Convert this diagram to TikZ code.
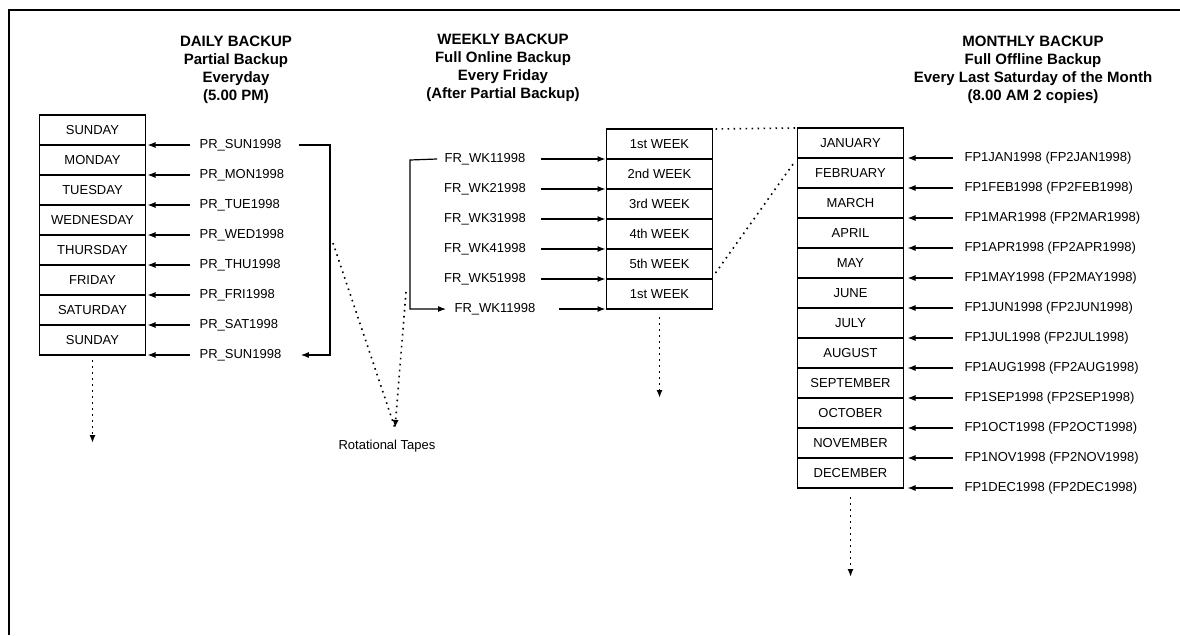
\documentclass[tikz,border=0pt]{standalone}
\usepackage{fontspec}
\setmainfont{Liberation Sans}
\usetikzlibrary{arrows.meta, positioning}

\begin{document}
\begin{tikzpicture}[x=1pt, y=-1pt, >={Latex[length=8pt,width=6pt]}, line width=1.2pt,
  font=\fontsize{13}{15}\selectfont]
\tikzstyle{cell}=[draw, line width=1.6pt, rectangle, minimum width=106pt, minimum height=30pt, inner sep=0pt, outer sep=0pt]
\tikzstyle{title}=[align=center, font=\fontsize{15}{18}\selectfont\bfseries]
\tikzstyle{tape}=[inner sep=1pt]
\tikzstyle{dots}=[line width=1.6pt, dash pattern=on 1.6pt off 4.4pt]

\useasboundingbox (0,0) rectangle (1180,635);
\draw[line width=1.5pt] (9,635) -- (9,10) -- (1180,10);

% daily
\node[title] (dtitle) at (236,70) {DAILY BACKUP\\Partial Backup\\Everyday\\(5.00 PM)};
\node[cell] (d1) at (92.5,130) {SUNDAY};
\foreach \day [count=\i from 2, remember=\i as \j (initially 1)] in {MONDAY,TUESDAY,WEDNESDAY,THURSDAY,FRIDAY,SATURDAY,SUNDAY}
  \node[cell, below=0pt of d\j] (d\i) {\day};
\foreach \tape [count=\i] in {SUN,MON,TUE,WED,THU,FRI,SAT,SUN} {
  \node[tape, anchor=west] (pr\i) at (198,{115+30*\i}) {PR\_\tape1998};
  \draw[<-] ([xshift=2pt]d\i.south east) -- ([xshift=-8pt]pr\i.west);
}
\coordinate (dloop) at (330,145);
\draw[->] ([xshift=16pt]pr1.east) -- (dloop) |- ([xshift=18pt]pr8.east);
\coordinate (dnext) at (92.5,443);
\draw[dots, ->] ([yshift=-5pt]d8.south) -- (dnext);

% weekly
\node[title] (wtitle) at (503,67.5) {WEEKLY BACKUP\\Full Online Backup\\Every Friday\\(After Partial Backup)};
\node[cell] (w1) at (659.5,144) {1st WEEK};
\foreach \wk [count=\i from 2, remember=\i as \j (initially 1)] in {2nd,3rd,4th,5th,1st}
  \node[cell, below=0pt of w\j] (w\i) {\wk\ WEEK};
\foreach \wk [count=\i] in {1,2,3,4,5} {
  \node[tape] (fr\i) at (485,{129+30*\i}) {FR\_WK\wk1998};
  \draw[->] ([xshift=14pt]fr\i.east) -- ([xshift=-1pt]w\i.south west);
}
\node[tape] (fr6) at (495,309) {FR\_WK11998};
\draw[->] ([xshift=22pt]fr6.east) -- ([xshift=-1pt]w6.south west);
\coordinate (wloop) at (410,160);
\draw[->] ([xshift=-6pt]fr1.west) -- (wloop) |- ([xshift=-7pt]fr6.west);
\coordinate (wnext) at (659.5,398);
\draw[dots, ->] ([yshift=-8pt]w6.south) -- (wnext);

% tapes
\node (tapes) at (387,446) {Rotational Tapes};
\coordinate (ttip) at (395,428);
\coordinate (dtap) at (333,243);
\coordinate (wtap) at (406,292);
\draw[dots] (dtap) -- (ttip);
\draw[dots, ->] (wtap) -- (ttip);

% monthly
\node[title] (mtitle) at (1033,69.5) {MONTHLY BACKUP\\Full Offline Backup\\Every Last Saturday of the Month\\(8.00 AM 2 copies)};
\node[cell] (m1) at (850.5,143) {JANUARY};
\foreach \mon [count=\i from 2, remember=\i as \j (initially 1)] in {FEBRUARY,MARCH,APRIL,MAY,JUNE,JULY,AUGUST,SEPTEMBER,OCTOBER,NOVEMBER,DECEMBER}
  \node[cell, below=0pt of m\j] (m\i) {\mon};
\foreach \mon [count=\i] in {JAN,FEB,MAR,APR,MAY,JUN,JUL,AUG,SEP,OCT,NOV,DEC} {
  \node[tape, anchor=west] (fp\i) at (963,{128+30*\i}) {FP1\mon1998 (FP2\mon1998)};
  \draw[<-] ([xshift=4pt]m\i.south east) -- ([xshift=-10pt]fp\i.west);
}
\coordinate (mnext) at (850.5,577);
\draw[dots, ->] ([yshift=-9pt]m12.south) -- (mnext);

\draw[dots] ([xshift=3pt]w1.north east) -- (m1.north west);
\draw[dots] ([xshift=3pt,yshift=6pt]w5.south east) -- ([xshift=-3pt,yshift=-4pt]m1.south west);
\end{tikzpicture}
\end{document}
